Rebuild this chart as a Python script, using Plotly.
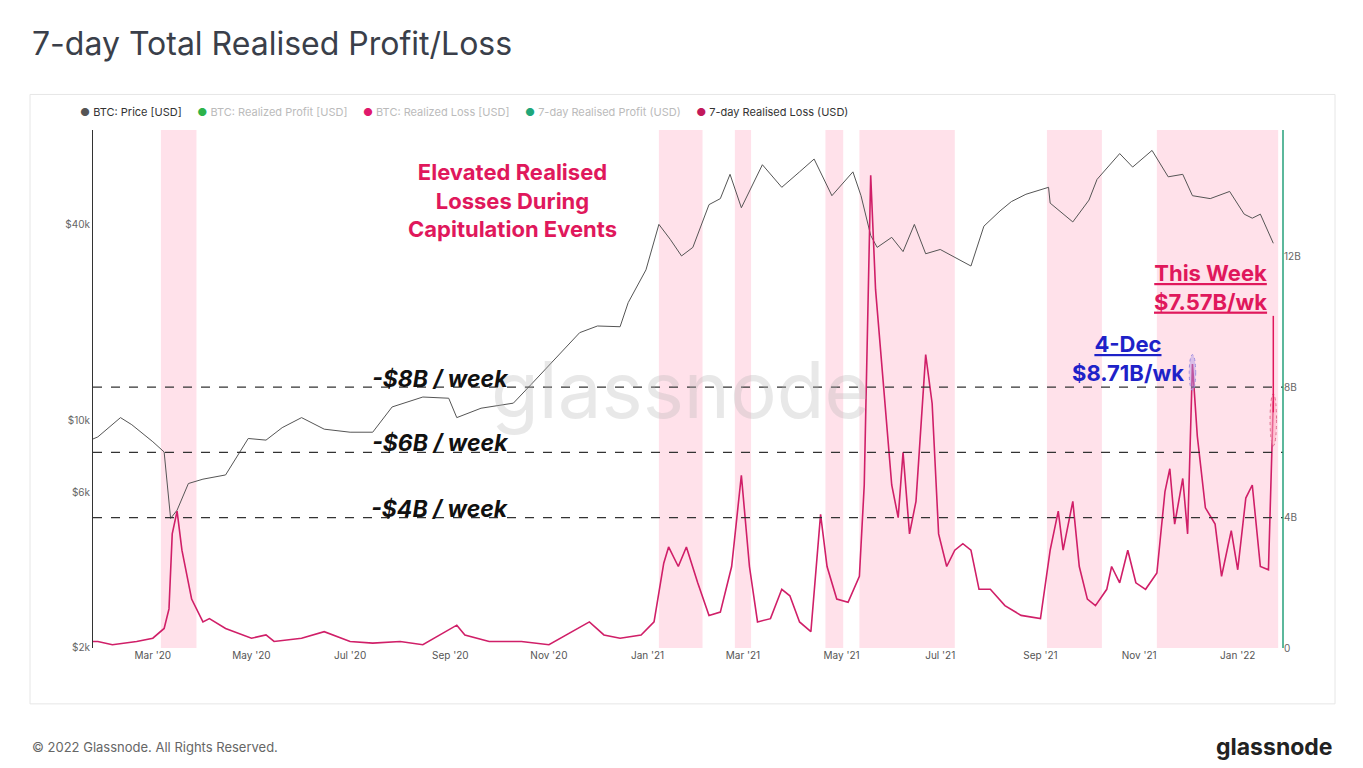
import plotly.graph_objects as go
import pandas as pd

price_dates = ["2020-01-20","2020-01-27","2020-02-10","2020-02-17","2020-03-01","2020-03-08","2020-03-12","2020-03-16","2020-03-23","2020-04-01","2020-04-15","2020-04-29","2020-05-10","2020-05-20","2020-06-01","2020-06-15","2020-07-01","2020-07-15","2020-07-27","2020-08-15","2020-08-31","2020-09-05","2020-09-20","2020-10-10","2020-10-21","2020-11-05","2020-11-20","2020-12-01","2020-12-15","2020-12-20","2020-12-31","2021-01-08","2021-01-15","2021-01-22","2021-01-29","2021-02-08","2021-02-15","2021-02-21","2021-02-28","2021-03-13","2021-03-25","2021-04-05","2021-04-14","2021-04-25","2021-05-08","2021-05-13","2021-05-19","2021-05-23","2021-06-01","2021-06-08","2021-06-15","2021-06-22","2021-07-01","2021-07-20","2021-07-28","2021-08-07","2021-08-14","2021-08-23","2021-09-06","2021-09-07","2021-09-21","2021-10-01","2021-10-06","2021-10-20","2021-10-28","2021-11-09","2021-11-19","2021-11-28","2021-12-04","2021-12-15","2021-12-27","2022-01-05","2022-01-10","2022-01-15","2022-01-21","2022-01-23"]
price_vals = [8600,8900,10200,9700,8600,8000,5000,5300,6400,6600,6800,8800,8700,9500,10200,9400,9200,9200,11000,11800,11700,10200,10900,11300,12900,15500,18600,19500,19400,23000,29000,40000,36000,32000,34000,46000,48000,57000,45000,61000,52000,58000,63500,49000,58000,49000,37000,34000,36500,33000,40000,32500,33500,29800,39500,44000,47000,49500,52000,46500,40700,47500,55000,66000,60000,67500,56000,57000,49000,48000,50500,43000,41800,43000,36500,35000]

loss_dates = ["2020-01-20","2020-01-27","2020-02-05","2020-02-20","2020-03-01","2020-03-08","2020-03-11","2020-03-13","2020-03-16","2020-03-19","2020-03-25","2020-04-01","2020-04-05","2020-04-15","2020-05-01","2020-05-10","2020-05-15","2020-06-01","2020-06-15","2020-07-01","2020-07-15","2020-08-01","2020-08-15","2020-09-05","2020-09-10","2020-09-25","2020-10-15","2020-11-01","2020-11-26","2020-12-05","2020-12-15","2020-12-28","2021-01-05","2021-01-11","2021-01-14","2021-01-20","2021-01-25","2021-02-01","2021-02-08","2021-02-15","2021-02-22","2021-02-28","2021-03-05","2021-03-10","2021-03-18","2021-03-25","2021-03-30","2021-04-05","2021-04-12","2021-04-18","2021-04-22","2021-04-28","2021-05-05","2021-05-12","2021-05-15","2021-05-19","2021-05-22","2021-05-26","2021-06-01","2021-06-05","2021-06-08","2021-06-12","2021-06-16","2021-06-22","2021-06-26","2021-06-30","2021-07-05","2021-07-10","2021-07-15","2021-07-20","2021-07-25","2021-08-01","2021-08-10","2021-08-20","2021-09-01","2021-09-07","2021-09-12","2021-09-15","2021-09-21","2021-09-25","2021-09-30","2021-10-05","2021-10-12","2021-10-15","2021-10-20","2021-10-25","2021-10-30","2021-11-05","2021-11-12","2021-11-17","2021-11-20","2021-11-23","2021-11-28","2021-12-01","2021-12-04","2021-12-07","2021-12-12","2021-12-18","2021-12-22","2021-12-28","2022-01-01","2022-01-06","2022-01-10","2022-01-15","2022-01-20","2022-01-23"]
loss_vals = [0.2,0.2,0.1,0.2,0.3,0.6,1.2,3.5,4.2,3.0,1.5,0.8,0.9,0.6,0.3,0.4,0.2,0.3,0.5,0.2,0.15,0.2,0.1,0.7,0.4,0.2,0.2,0.1,0.8,0.4,0.3,0.4,0.8,2.6,3.1,2.5,3.1,2.0,1.0,1.1,2.5,5.3,2.5,0.8,0.9,1.8,1.6,0.8,0.5,4.1,2.5,1.5,1.4,2.2,5.0,14.5,11.0,8.5,5.0,4.0,6.0,3.5,4.5,9.0,7.5,3.5,2.5,3.0,3.2,3.0,1.8,1.8,1.3,1.0,0.9,3.0,4.2,3.0,4.5,2.5,1.5,1.3,1.8,2.5,2.0,3.0,2.0,1.8,2.3,4.8,5.5,3.8,5.2,3.5,8.71,6.5,4.3,3.8,2.2,3.6,2.4,4.6,5.0,2.5,2.4,7.57]

cap_starts = ["2020-03-06","2021-01-08","2021-02-24","2021-04-21","2021-05-12","2021-09-05","2021-11-12"]
cap_ends = ["2020-03-28","2021-02-04","2021-03-06","2021-05-02","2021-07-10","2021-10-09","2022-01-26"]

level_vals = [8, 6, 4]
level_labels = ["-$8B / week", "-$6B / week", "-$4B / week"]

PINK = "#e0185c"
fig = go.Figure()
fig.add_trace(go.Scatter(x=pd.to_datetime(loss_dates), y=loss_vals, yaxis="y2", mode="lines",
                         line=dict(color="#d01f68", width=1.6), showlegend=False))
fig.add_trace(go.Scatter(x=pd.to_datetime(price_dates), y=price_vals, mode="lines",
                         line=dict(color="#555555", width=1), showlegend=False))

shapes = []
for s, e in zip(cap_starts, cap_ends):
    shapes.append(dict(type="rect", xref="x", yref="paper", x0=s, x1=e, y0=0, y1=1,
                       fillcolor="rgba(255,170,195,0.35)", line=dict(width=0), layer="below"))
for v in level_vals:
    shapes.append(dict(type="line", xref="paper", yref="y2", x0=0, x1=1, y0=v, y1=v,
                       line=dict(color="#333", width=1.3, dash="dash")))
shapes.append(dict(type="line", xref="paper", yref="paper", x0=1, x1=1, y0=0, y1=1,
                   line=dict(color="#26a17b", width=1.5)))
shapes.append(dict(type="rect", xref="paper", yref="paper", x0=(30-93)/1190, x1=(1335-93)/1190,
                   y0=(640-695)/510, y1=(640-95)/510, line=dict(color="#e6e6e6", width=1), layer="below"))
shapes.append(dict(type="circle", xref="x", yref="y2", x0="2021-12-02", x1="2021-12-06", y0=7.9, y1=9.0,
                   fillcolor="rgba(170,150,230,0.45)", line=dict(color="#a090e0", width=1, dash="dot")))
shapes.append(dict(type="circle", xref="x", yref="y2", x0="2022-01-21", x1="2022-01-25", y0=6.2, y1=7.8,
                   fillcolor="rgba(255,170,190,0.5)", line=dict(color="#e07090", width=1, dash="dot")))
shapes.append(dict(type="line", xref="x", yref="paper", x0="2022-01-23", x1="2022-01-23",
                   y0=(640-313)/510, y1=(640-408)/510, line=dict(color=PINK, width=1.5)))

ann = []
def px(x): return (x-93)/1190
def py(y): return (640-y)/510
ann.append(dict(x=px(30), y=py(45), text="7-day Total Realised Profit/Loss", xanchor="left", yanchor="middle",
                font=dict(size=32, color="#3a3f4a", family="Inter")))
ann.append(dict(x=px(30), y=py(737), text="© 2022 Glassnode. All Rights Reserved.", xanchor="left", yanchor="middle",
                font=dict(size=13, color="#666", family="Inter")))
ann.append(dict(x=px(1335), y=py(737), text="<b>glassnode</b>", xanchor="right", yanchor="middle",
                font=dict(size=23, color="#222", family="Inter")))
ann.append(dict(x=px(680), y=py(385), text="glassnode", xanchor="center", yanchor="middle",
                font=dict(size=78, color="rgba(180,180,180,0.3)", family="Inter")))
leg = ("<span style='color:#555'>●</span> <span style='color:#333'>BTC: Price [USD]</span>     "
       "<span style='color:#2db34a'>●</span> <span style='color:#bbb'>BTC: Realized Profit [USD]</span>     "
       "<span style='color:#e0186c'>●</span> <span style='color:#bbb'>BTC: Realized Loss [USD]</span>     "
       "<span style='color:#1fa77a'>●</span> <span style='color:#bbb'>7-day Realised Profit (USD)</span>     "
       "<span style='color:#c2185b'>●</span> <span style='color:#333'>7-day Realised Loss (USD)</span>")
ann.append(dict(x=px(78), y=py(112), text=leg, xanchor="left", yanchor="middle",
                font=dict(size=11, family="Inter")))
for y, t in zip([375, 438, 503], level_labels):
    ann.append(dict(x=px(440), y=py(y), text="<b><i>"+t+"</i></b>", xanchor="center", yanchor="middle",
                    font=dict(size=23, color="#111", family="Inter")))
ann.append(dict(x=px(512), y=py(199), text="<b>Elevated Realised<br>Losses During<br>Capitulation Events</b>",
                xanchor="center", yanchor="middle", font=dict(size=22, color=PINK, family="Inter")))
ann.append(dict(x=px(1210), y=py(285), text="<b><u>This Week</u><br><u>$7.57B/wk</u></b>",
                xanchor="center", yanchor="middle", align="center", font=dict(size=22, color=PINK, family="Inter")))
ann.append(dict(x=px(1128), y=py(355), text="<b><u>4-Dec</u><br>$8.71B/wk</b>",
                xanchor="center", yanchor="middle", align="center", font=dict(size=22, color="#1e22c8", family="Inter")))
for a in ann:
    a.update(xref="paper", yref="paper", showarrow=False)

fig.update_layout(
    width=1355, height=760, plot_bgcolor="white", paper_bgcolor="white",
    margin=dict(l=85, r=80, t=122, b=120), shapes=shapes, annotations=ann,
    font=dict(family="Inter", size=10, color="#666"),
    xaxis=dict(range=["2020-01-24", "2022-01-29"], showgrid=False, tickformat="%b '%y", dtick="M2",
               tick0="2020-03-01", ticks="", showline=False, zeroline=False, tickfont=dict(size=10, color="#555")),
    yaxis=dict(type="log", range=[3.301, 4.892], tickvals=[2000, 6000, 10000, 40000],
               ticktext=["$2k", "$6k", "$10k", "$40k"], showgrid=False, zeroline=False,
               showline=True, linecolor="#333", linewidth=1, ticklen=0, tickfont=dict(size=10, color="#666")),
    yaxis2=dict(overlaying="y", side="right", range=[0, 15.89], tickvals=[0, 4, 8, 12],
                ticktext=["0", "4B", "8B", "12B"], showgrid=False, zeroline=False, tickfont=dict(size=10, color="#666")),
)
fig.write_html("out.html")
